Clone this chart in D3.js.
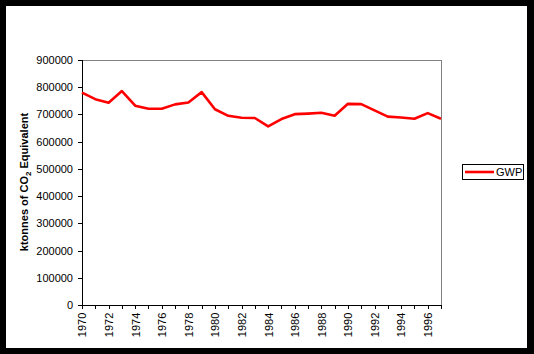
<!DOCTYPE html>
<html>
<head>
<meta charset="utf-8">
<script src="https://cdn.jsdelivr.net/npm/d3@7"></script>
<style>
  body { margin: 0; background: #000; }
  svg { display: block; font-family: "Liberation Sans", Arial, sans-serif; }
</style>
</head>
<body>
<svg id="chart" width="534" height="354"></svg>
<script>
// GWP emissions, ktonnes CO2 equivalent
const years = d3.range(1970, 1998)
const gwp = [
  780000, 756000, 743000, 786000, 732000, 721000, 721000, 737000, 744000, 782000,
  719000, 695000, 688000, 687000, 656000, 683000, 701000, 703000, 706000, 695000,
  739000, 738000, 715000, 692000, 689000, 684000, 705000, 684000,
]
const yTicks = [0, 100000, 200000, 300000, 400000, 500000, 600000, 700000, 800000, 900000]
const xLabels = years.filter((y) => y % 2 === 0)

const svg = d3.select('#chart')
const plot = { left: 82, top: 60, right: 441, bottom: 305 }

// white chart area on the black frame
svg.append('rect')
  .attr('x', 6).attr('y', 6)
  .attr('width', 521).attr('height', 342)
  .attr('fill', '#fff')

const x = d3.scalePoint().domain(years).range([plot.left, plot.right])
const y = d3.scaleLinear().domain([0, 900000]).range([plot.bottom, plot.top])

// plot border (gray top and right)
svg.append('path')
  .attr('d', `M${plot.left},${plot.top}H${plot.right}V${plot.bottom}`)
  .attr('fill', 'none')
  .attr('stroke', '#808080')
  .attr('stroke-width', 1)
  .attr('shape-rendering', 'crispEdges')

const yAxis = svg.append('g')
  .attr('transform', `translate(${plot.left},0)`)
  .call(d3.axisLeft(y).tickValues(yTicks).tickFormat(d3.format('d')).tickSize(4).tickPadding(5))
yAxis.select('.domain').attr('d', `M0,${plot.top}V${plot.bottom}`)
yAxis.selectAll('text').attr('font-size', 11).attr('fill', '#000')
yAxis.attr('shape-rendering', 'crispEdges')

const xAxis = svg.append('g')
  .attr('transform', `translate(0,${plot.bottom})`)
  .call(d3.axisBottom(x).tickSize(4).tickSizeOuter(0)
    .tickFormat((d) => (xLabels.includes(d) ? d : '')))
xAxis.select('.domain').attr('d', `M${plot.left},0H${plot.right}`)
xAxis.attr('shape-rendering', 'crispEdges')
xAxis.selectAll('.tick text')
  .attr('font-size', 11)
  .attr('fill', '#000')
  .attr('text-anchor', 'end')
  .attr('x', 0)
  .attr('y', 0)
  .attr('dx', '-0.15em')
  .attr('dy', '0.35em')
  .attr('transform', 'translate(0,6) rotate(-90)')

// y axis title
const title = svg.append('text')
  .attr('transform', 'translate(28,182) rotate(-90)')
  .attr('text-anchor', 'middle')
  .attr('font-size', 11)
  .attr('font-weight', 'bold')
  .attr('fill', '#000')
title.append('tspan').text('ktonnes of CO')
title.append('tspan').attr('font-size', 8).attr('dy', 3).text('2')
title.append('tspan').attr('dy', -3).text(' Equivalent')

// series line
const line = d3.line().x((d, i) => x(years[i])).y((d) => y(d))
svg.append('path')
  .datum(gwp)
  .attr('d', line)
  .attr('fill', 'none')
  .attr('stroke', '#ff0000')
  .attr('stroke-width', 2.6)
  .attr('stroke-linejoin', 'round')

// legend
const legend = svg.append('g').attr('transform', 'translate(462,164)')
legend.append('rect')
  .attr('x', 0.5).attr('y', 0.5)
  .attr('width', 61).attr('height', 15)
  .attr('fill', '#fff')
  .attr('stroke', '#000')
  .attr('shape-rendering', 'crispEdges')
legend.append('line')
  .attr('x1', 3).attr('x2', 32)
  .attr('y1', 8).attr('y2', 8)
  .attr('stroke', '#ff0000')
  .attr('stroke-width', 2.6)
legend.append('text')
  .attr('x', 34).attr('y', 12)
  .attr('font-size', 11)
  .attr('fill', '#000')
  .text('GWP')
</script>
</body>
</html>
